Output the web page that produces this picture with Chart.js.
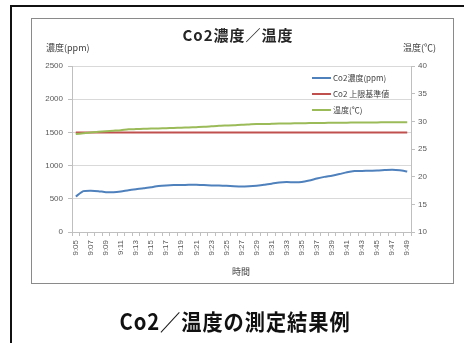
<!DOCTYPE html>
<html lang="ja">
<head>
<meta charset="utf-8">
<title>Co2／温度の測定結果例</title>
<script src="https://cdn.jsdelivr.net/npm/chart.js@4/dist/chart.umd.min.js"></script>
<style>
  html, body { margin: 0; padding: 0; background: #fff; }
  #wrap { position: relative; width: 464px; height: 343px; overflow: hidden; background: #fff; }
  #outer { position: absolute; left: 10px; top: 5px; width: 470px; height: 360px;
           border-left: 2px solid #111; border-top: 2px solid #111; }
  #box { position: absolute; left: 31px; top: 18px; width: 421px; height: 264px; border: 1px solid #8a8a8a; }
  canvas { position: absolute; left: 0; top: 0; }
  .txt { position: absolute; white-space: nowrap; color: #404040;
         font-family: "Noto Sans CJK JP", "Noto Sans", sans-serif; }
  #title { left: 0; width: 476px; top: 24px; text-align: center; font-size: 15px; font-weight: bold;
           color: #262626; letter-spacing: 1px; }
  #ytitleL { left: 46px; top: 41px; font-size: 9px; color: #404040; }
  #ytitleR { left: 403px; top: 41px; font-size: 9px; color: #404040; }
  #xtitle { left: 232px; top: 265px; font-size: 9px; color: #404040; }
  #caption { left: 0; width: 470px; top: 304px; text-align: center; font-size: 22px; font-weight: bold;
             color: #111; letter-spacing: 1px; transform: scaleX(0.92); transform-origin: 235px 0; }
  #legend { position: absolute; left: 312px; top: 70px; font-family: "Noto Sans CJK JP", sans-serif;
            font-size: 8px; color: #404040; }
  #legend div { height: 16px; line-height: 12px; display: flex; align-items: center; }
  #legend span.sw { display: inline-block; width: 19px; height: 2px; margin-right: 2px; }
</style>
</head>
<body>
<div id="wrap">
  <div id="outer"></div>
  <div id="box"></div>
  <canvas id="c" width="464" height="343"></canvas>
  <div class="txt" id="title">Co2濃度／温度</div>
  <div class="txt" id="ytitleL">濃度(ppm)</div>
  <div class="txt" id="ytitleR">温度(℃)</div>
  <div class="txt" id="xtitle">時間</div>
  <div id="legend"></div>
  <div class="txt" id="caption">Co2／温度の測定結果例</div>
</div>
<script>
// Measurement times, one reading per minute
const times = [
  '9:05','9:06','9:07','9:08','9:09','9:10','9:11','9:12','9:13','9:14',
  '9:15','9:16','9:17','9:18','9:19','9:20','9:21','9:22','9:23','9:24',
  '9:25','9:26','9:27','9:28','9:29','9:30','9:31','9:32','9:33','9:34',
  '9:35','9:36','9:37','9:38','9:39','9:40','9:41','9:42','9:43','9:44',
  '9:45','9:46','9:47','9:48','9:49'
];

// CO2 concentration (ppm)
const co2 = [
  534, 615, 622, 615, 600, 598, 610, 630, 645, 658,
  675, 692, 702, 708, 706, 712, 710, 706, 702, 700,
  696, 690, 686, 690, 698, 710, 728, 746, 752, 748,
  752, 775, 805, 830, 848, 872, 900, 918, 920, 922,
  925, 932, 938, 930, 910
];

// CO2 upper limit reference (ppm)
const co2Limit = times.map(() => 1500);

// Temperature (°C)
const temperature = [
  27.7, 27.85, 28.0, 28.1, 28.2, 28.3, 28.4, 28.55, 28.6, 28.65,
  28.7, 28.72, 28.75, 28.8, 28.85, 28.9, 28.95, 29.0, 29.1, 29.2,
  29.25, 29.3, 29.4, 29.45, 29.5, 29.5, 29.55, 29.6, 29.6, 29.65,
  29.65, 29.7, 29.7, 29.7, 29.75, 29.75, 29.75, 29.8, 29.8, 29.8,
  29.8, 29.85, 29.85, 29.85, 29.85
];

// Axis ranges
const ppmTicks = { min: 0, max: 2500, step: 500 };
const tempTicks = { min: 10, max: 40, step: 5 };

const tickFont = { family: '"Liberation Sans", Arial, sans-serif', size: 8 };
const tickColor = '#595959';
const axisLine = '#bfbfbf';
const plain = v => String(v);

const chart = new Chart(document.getElementById('c'), {
  type: 'line',
  data: {
    labels: times,
    datasets: [
      { label: 'Co2濃度(ppm)', data: co2, yAxisID: 'yL', borderColor: '#4f81bd', order: 0 },
      { label: 'Co2 上限基準値', data: co2Limit, yAxisID: 'yL', borderColor: '#c0504d', order: 2 },
      { label: '温度(℃)', data: temperature, yAxisID: 'yR', borderColor: '#9bbb59', order: 1 }
    ]
  },
  options: {
    responsive: false,
    animation: false,
    devicePixelRatio: 1,
    layout: { padding: { top: 66, left: 0, right: 0, bottom: 0 } },
    elements: {
      point: { radius: 0 },
      line: { borderWidth: 2, tension: 0.2, fill: false }
    },
    plugins: { legend: { display: false }, tooltip: { enabled: false }, title: { display: false } },
    scales: {
      x: {
        type: 'category',
        offset: true,
        grid: { display: true, drawOnChartArea: false, offset: true, color: axisLine, tickLength: 4 },
        border: { color: axisLine },
        ticks: {
          autoSkip: false, minRotation: 90, maxRotation: 90, padding: 4,
          color: tickColor, font: tickFont,
          callback: function (v, i) { return i % 2 === 0 ? this.getLabelForValue(v) : ''; }
        },
        afterFit: s => { s.height = 111; }
      },
      yL: {
        position: 'left',
        min: ppmTicks.min, max: ppmTicks.max,
        ticks: { stepSize: ppmTicks.step, color: tickColor, font: tickFont, padding: 5, callback: plain },
        grid: { color: '#d9d9d9', tickColor: axisLine, tickLength: 4 },
        border: { color: axisLine },
        afterFit: s => { s.width = 72; }
      },
      yR: {
        position: 'right',
        min: tempTicks.min, max: tempTicks.max,
        ticks: { stepSize: tempTicks.step, color: tickColor, font: tickFont, padding: 3, callback: plain },
        grid: { drawOnChartArea: false, color: axisLine, tickLength: 4 },
        border: { color: axisLine },
        afterFit: s => { s.width = 53; }
      }
    }
  }
});

// Legend built from the chart's own datasets, in series order
const legendEl = document.getElementById('legend');
chart.data.datasets.forEach(ds => {
  const row = document.createElement('div');
  const sw = document.createElement('span');
  sw.className = 'sw';
  sw.style.background = ds.borderColor;
  row.appendChild(sw);
  row.appendChild(document.createTextNode(ds.label));
  legendEl.appendChild(row);
});
</script>
</body>
</html>
